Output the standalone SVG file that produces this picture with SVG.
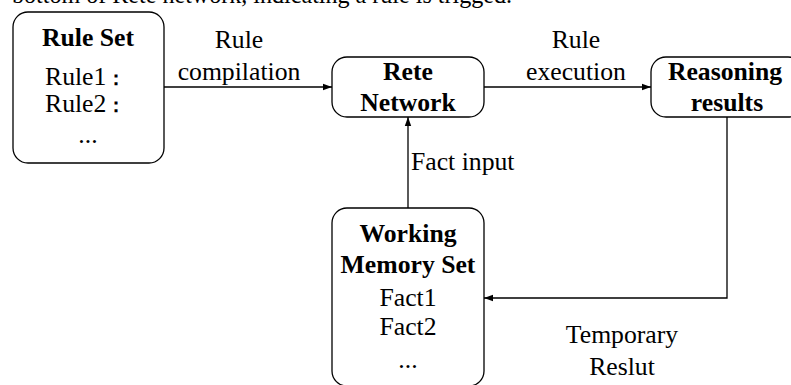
<svg xmlns="http://www.w3.org/2000/svg" width="791" height="385" viewBox="0 0 791 385">
  <style>
    text { font-family: "Liberation Serif", "Times New Roman", serif; font-size: 25.7px; fill: #000; }
    .b { font-weight: bold; }
    .m { text-anchor: middle; }
    .colon { font-size: 20px; font-weight: bold; }
    .box { fill: #fff; stroke: #000; stroke-width: 1.3; }
    .wire { fill: none; stroke: #000; stroke-width: 1.3; }
  </style>
  <defs>
    <marker id="arrow" markerWidth="10" markerHeight="8" refX="9" refY="4" orient="auto" markerUnits="userSpaceOnUse">
      <path d="M0,0.8 L9,4 L0,7.2 Z" fill="#000"/>
    </marker>
  </defs>
  <rect width="791" height="385" fill="#fff"/>

  <!-- caption line running off the top edge -->
  <text x="12" y="3" textLength="500" lengthAdjust="spacingAndGlyphs">bottom of Rete network, indicating a rule is trigged.</text>

  <!-- connectors -->
  <g id="connectors">
    <path class="wire" d="M164,87 H332" marker-end="url(#arrow)"/>
    <path class="wire" d="M484,87 H651" marker-end="url(#arrow)"/>
    <path class="wire" d="M408,208 V117" marker-end="url(#arrow)"/>
    <path class="wire" d="M727,117 V298 H484" marker-end="url(#arrow)"/>
    <text class="m" x="239" y="48">Rule</text>
    <text class="m" x="239" y="80">compilation</text>
    <text class="m" x="576" y="48">Rule</text>
    <text class="m" x="576" y="80">execution</text>
    <text x="411" y="170">Fact input</text>
    <text class="m" x="622" y="343">Temporary</text>
    <text class="m" x="622" y="375">Reslut</text>
  </g>

  <g id="rule-set">
    <rect class="box" x="13" y="12" width="151" height="151" rx="15"/>
    <text class="b m" x="88" y="46">Rule Set</text>
    <text x="45" y="85">Rule1<tspan class="colon">：</tspan></text>
    <text x="45" y="112">Rule2<tspan class="colon">：</tspan></text>
    <text class="m" x="88" y="143">...</text>
  </g>

  <g id="rete-network">
    <rect class="box" x="332" y="57" width="152" height="60" rx="15"/>
    <text class="b m" x="408" y="80">Rete</text>
    <text class="b m" x="408" y="111">Network</text>
  </g>

  <g id="reasoning-results">
    <rect class="box" x="651" y="57" width="152" height="60" rx="15"/>
    <text class="b m" x="725" y="80">Reasoning</text>
    <text class="b m" x="727" y="111">results</text>
  </g>

  <g id="working-memory">
    <rect class="box" x="332" y="208" width="152" height="178" rx="15"/>
    <text class="b m" x="408" y="242">Working</text>
    <text class="b m" x="408" y="273">Memory Set</text>
    <text class="m" x="408" y="306">Fact1</text>
    <text class="m" x="408" y="335">Fact2</text>
    <text class="m" x="408" y="368">...</text>
  </g>
</svg>
